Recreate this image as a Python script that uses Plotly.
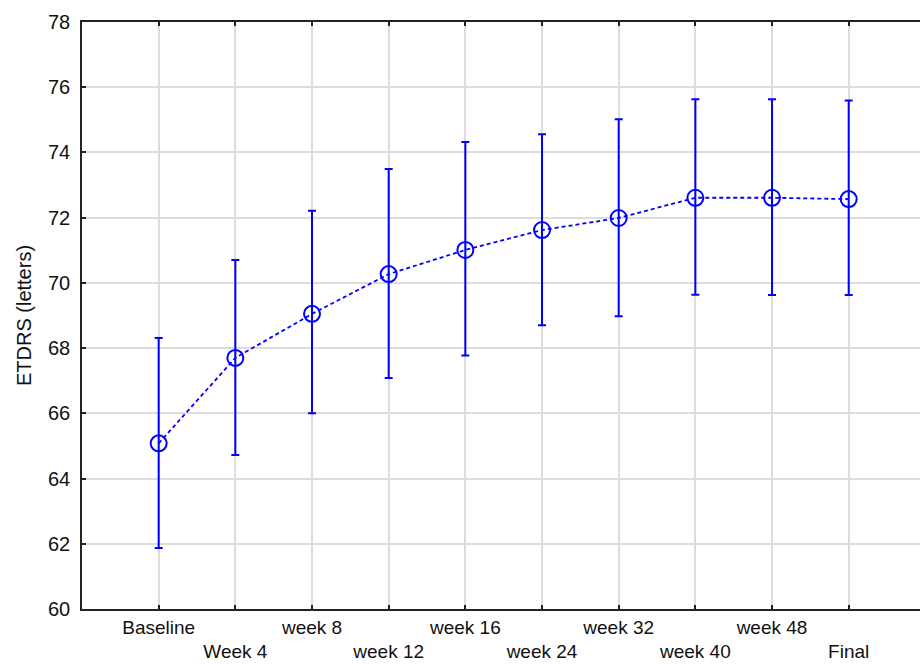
import plotly.graph_objects as go

categories = ["Baseline", "Week 4", "week 8", "week 12", "week 16",
              "week 24", "week 32", "week 40", "week 48", "Final"]
means = [65.08, 67.70, 69.05, 70.27, 71.01, 71.62, 71.99, 72.61, 72.61, 72.57]
upper = [68.31, 70.70, 72.21, 73.49, 74.32, 74.56, 75.02, 75.63, 75.63, 75.59]
lower = [61.87, 64.72, 66.00, 67.08, 67.77, 68.70, 68.98, 69.64, 69.63, 69.63]
y_ticks = [60, 62, 64, 66, 68, 70, 72, 74, 76, 78]

err_plus = [u - m for u, m in zip(upper, means)]
err_minus = [m - l for m, l in zip(means, lower)]
xpos = list(range(len(categories)))
tick_text = [c if i % 2 == 0 else "<br>" + c for i, c in enumerate(categories)]

fig = go.Figure()
fig.add_trace(go.Scatter(
    x=xpos, y=means, mode="lines+markers",
    line=dict(color="#0000ff", width=1.8, dash="4px,3px"),
    marker=dict(symbol="circle-open", size=16, color="#0000ff",
                line=dict(width=2, color="#0000ff")),
    error_y=dict(type="data", symmetric=False, array=err_plus, arrayminus=err_minus,
                 color="#0000ff", thickness=2, width=4),
    showlegend=False,
))

fig.update_layout(
    width=920, height=664,
    margin=dict(l=82, r=0, t=22, b=55),
    paper_bgcolor="white", plot_bgcolor="white",
    font=dict(family="Liberation Sans, Arial, sans-serif", color="#111111", size=15),
    xaxis=dict(
        tickmode="array", tickvals=xpos, ticktext=tick_text,
        range=[-1, 9.93], showgrid=True, gridcolor="#dcdcdc", gridwidth=1.5,
        showline=True, linecolor="#222222", linewidth=1.5, mirror="ticks",
        ticks="inside", ticklen=4, tickcolor="#222222", tickwidth=1.5,
        tickfont=dict(size=19), tickangle=0, automargin=False, zeroline=False,
    ),
    yaxis=dict(
        tickmode="array", tickvals=y_ticks, range=[60, 78],
        showgrid=True, gridcolor="#dcdcdc", gridwidth=1.5,
        showline=True, linecolor="#222222", linewidth=1.5,
        ticks="inside", ticklen=4, tickcolor="#222222", tickwidth=1.5,
        tickfont=dict(size=20), zeroline=False, ticklabelstandoff=6,
        automargin=False,
        title=dict(text="ETDRS (letters)", font=dict(size=20), standoff=11),
    ),
)

fig.write_html("out.html",
               config={"displayModeBar": False},
               post_script="document.body.style.margin='0';document.body.style.overflow='hidden';")
